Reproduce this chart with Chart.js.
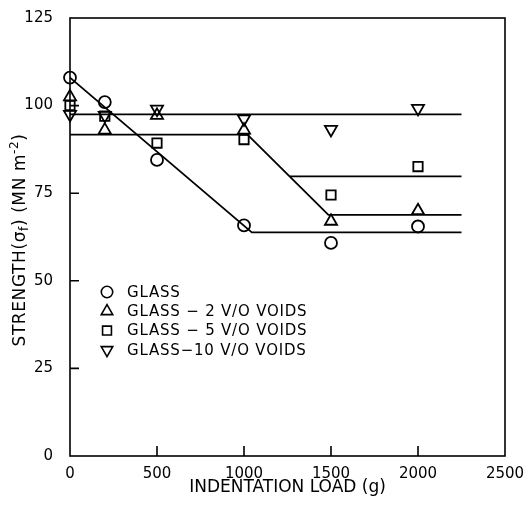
<!DOCTYPE html>
<html>
<head>
<meta charset="utf-8">
<script src="https://cdn.jsdelivr.net/npm/chart.js@4.4.1/dist/chart.umd.min.js"></script>
<style>
  html, body { margin: 0; padding: 0; background: #fff; }
  #wrap { width: 530px; height: 505px; }
</style>
</head>
<body>
<div id="wrap"><canvas id="strengthChart" width="530" height="505"></canvas></div>
<script>
// measured points, indentation load (g) vs strength (MN m^-2)
const loads = [0, 200, 500, 1000, 1500, 2000];
const glass = [108, 101, 84.5, 65.8, 60.8, 65.5];
const voids2 = [102.5, 93, 97.2, 93, 67, 70];
const voids5 = [100, 97, 89.3, 90.3, 74.5, 82.6];
const voids10 = [97.5, 97.2, 99, 96.2, 93.2, 99.2];

// hand-drawn fit lines (vertices)
const fitGlassX = [0, 1045, 2250];
const fitGlassY = [108, 63.8, 63.8];
const fit2X = [0, 1020, 1485, 2250];
const fit2Y = [91.7, 91.7, 68.8, 68.8];
const fit5X = [1264, 2250];
const fit5Y = [79.8, 79.8];
const fit10X = [0, 2250];
const fit10Y = [97.5, 97.5];

const xTicks = [0, 500, 1000, 1500, 2000, 2500];
const yTicks = [0, 25, 50, 75, 100, 125];

const seriesLabels = ["GLASS", "GLASS \u2212 2 V/O VOIDS", "GLASS \u2212 5 V/O VOIDS", "GLASS\u221210 V/O VOIDS"];

const FONT = "'DejaVu Sans', sans-serif";

const pts = (xs, ys) => xs.map((x, i) => ({ x: x, y: ys[i] }));

const markerSet = (label, ys, style, radius, rotation) => ({
  label: label,
  data: pts(loads, ys),
  showLine: false,
  clip: false,
  pointStyle: style,
  pointRadius: radius,
  pointRotation: rotation,
  pointBorderColor: "#000",
  pointBackgroundColor: "rgba(0,0,0,0)",
  pointBorderWidth: 1.8,
  order: 0,
});

const fitSet = (xs, ys) => ({
  label: "fit",
  data: pts(xs, ys),
  showLine: true,
  borderColor: "#000",
  borderWidth: 1.8,
  pointRadius: 0,
  fill: false,
  tension: 0,
  order: 1,
});

function drawMarker(ctx, style, r, rot, x, y) {
  ctx.beginPath();
  if (style === "circle") {
    ctx.arc(x, y, r, 0, Math.PI * 2);
  } else if (style === "rect") {
    const s = r * Math.SQRT1_2;
    ctx.rect(x - s, y - s, 2 * s, 2 * s);
  } else {
    let a = (rot || 0) * Math.PI / 180;
    for (let k = 0; k < 3; k++) {
      const px = x + Math.sin(a) * r;
      const py = y - Math.cos(a) * r;
      if (k === 0) ctx.moveTo(px, py); else ctx.lineTo(px, py);
      a += Math.PI * 2 / 3;
    }
    ctx.closePath();
  }
  ctx.stroke();
}

// box frame, inward ticks, y title and in-plot legend
const framePlugin = {
  id: "frame",
  afterDraw(chart) {
    const ctx = chart.ctx;
    const a = chart.chartArea;
    const xs = chart.scales.x;
    const ys = chart.scales.y;
    ctx.save();
    ctx.strokeStyle = "#000";
    ctx.lineWidth = 1.6;
    ctx.strokeRect(a.left, a.top, a.right - a.left, a.bottom - a.top);
    ctx.beginPath();
    xTicks.slice(1, -1).forEach((v) => {
      const px = xs.getPixelForValue(v);
      ctx.moveTo(px, a.bottom);
      ctx.lineTo(px, a.bottom - 10);
    });
    yTicks.slice(1, -1).forEach((v) => {
      const py = ys.getPixelForValue(v);
      ctx.moveTo(a.left, py);
      ctx.lineTo(a.left + 9, py);
    });
    ctx.stroke();

    // y axis title with subscript / superscript
    ctx.translate(21, 240);
    ctx.rotate(-Math.PI / 2);
    ctx.fillStyle = "#000";
    ctx.textBaseline = "middle";
    ctx.letterSpacing = "0.6px";
    const parts = [
      ["STRENGTH(\u03c3", 17, 0],
      ["f", 12, 4],
      [") (MN m", 17, 0],
      ["-2", 12, -6],
      [")", 17, 0],
    ];
    let total = 0;
    parts.forEach((p) => { ctx.font = p[1] + "px " + FONT; total += ctx.measureText(p[0]).width; });
    let cx = -total / 2;
    parts.forEach((p) => {
      ctx.font = p[1] + "px " + FONT;
      ctx.fillText(p[0], cx, p[2]);
      cx += ctx.measureText(p[0]).width;
    });
    ctx.restore();

    // legend
    ctx.save();
    ctx.strokeStyle = "#000";
    ctx.fillStyle = "#000";
    ctx.lineWidth = 1.6;
    ctx.font = "15px " + FONT;
    ctx.letterSpacing = "0.8px";
    ctx.textBaseline = "middle";
    const rows = chart.data.datasets.filter((d) => d.label !== "fit");
    rows.forEach((d, i) => {
      const y = 292 + i * 19.3;
      drawMarker(ctx, d.pointStyle, d.pointRadius * 0.95, d.pointRotation, 107, y);
      ctx.fillText(d.label, 127, y + 1);
    });
    ctx.restore();
  },
};

new Chart(document.getElementById("strengthChart"), {
  type: "scatter",
  data: {
    datasets: [
      markerSet(seriesLabels[0], glass, "circle", 6, 0),
      markerSet(seriesLabels[1], voids2, "triangle", 7, 0),
      markerSet(seriesLabels[2], voids5, "rect", 6.6, 0),
      markerSet(seriesLabels[3], voids10, "triangle", 7, 180),
      fitSet(fitGlassX, fitGlassY),
      fitSet(fit2X, fit2Y),
      fitSet(fit5X, fit5Y),
      fitSet(fit10X, fit10Y),
    ],
  },
  options: {
    responsive: false,
    animation: false,
    layout: { padding: { top: 15, right: 25, left: 0, bottom: 0 } },
    plugins: { legend: { display: false }, tooltip: { enabled: false } },
    scales: {
      x: {
        type: "linear",
        min: 0,
        max: 2500,
        afterBuildTicks: (s) => { s.ticks = xTicks.map((v) => ({ value: v })); },
        afterFit: (s) => { s.height = 49; },
        grid: { display: false },
        border: { display: false },
        ticks: {
          color: "#000",
          font: { family: FONT, size: 15 },
          padding: 1,
          maxRotation: 0,
          callback: (v) => String(v),
        },
        title: {
          display: true,
          text: "INDENTATION LOAD (g)",
          color: "#000",
          font: { family: FONT, size: 17 },
          padding: { top: 0, bottom: 7 },
        },
      },
      y: {
        type: "linear",
        min: 0,
        max: 125,
        afterBuildTicks: (s) => { s.ticks = yTicks.map((v) => ({ value: v })); },
        afterFit: (s) => { s.width = 70; },
        grid: { display: false },
        border: { display: false },
        ticks: {
          color: "#000",
          font: { family: FONT, size: 15 },
          padding: 9,
          callback: (v) => String(v),
        },
      },
    },
  },
  plugins: [framePlugin],
});
</script>
</body>
</html>
